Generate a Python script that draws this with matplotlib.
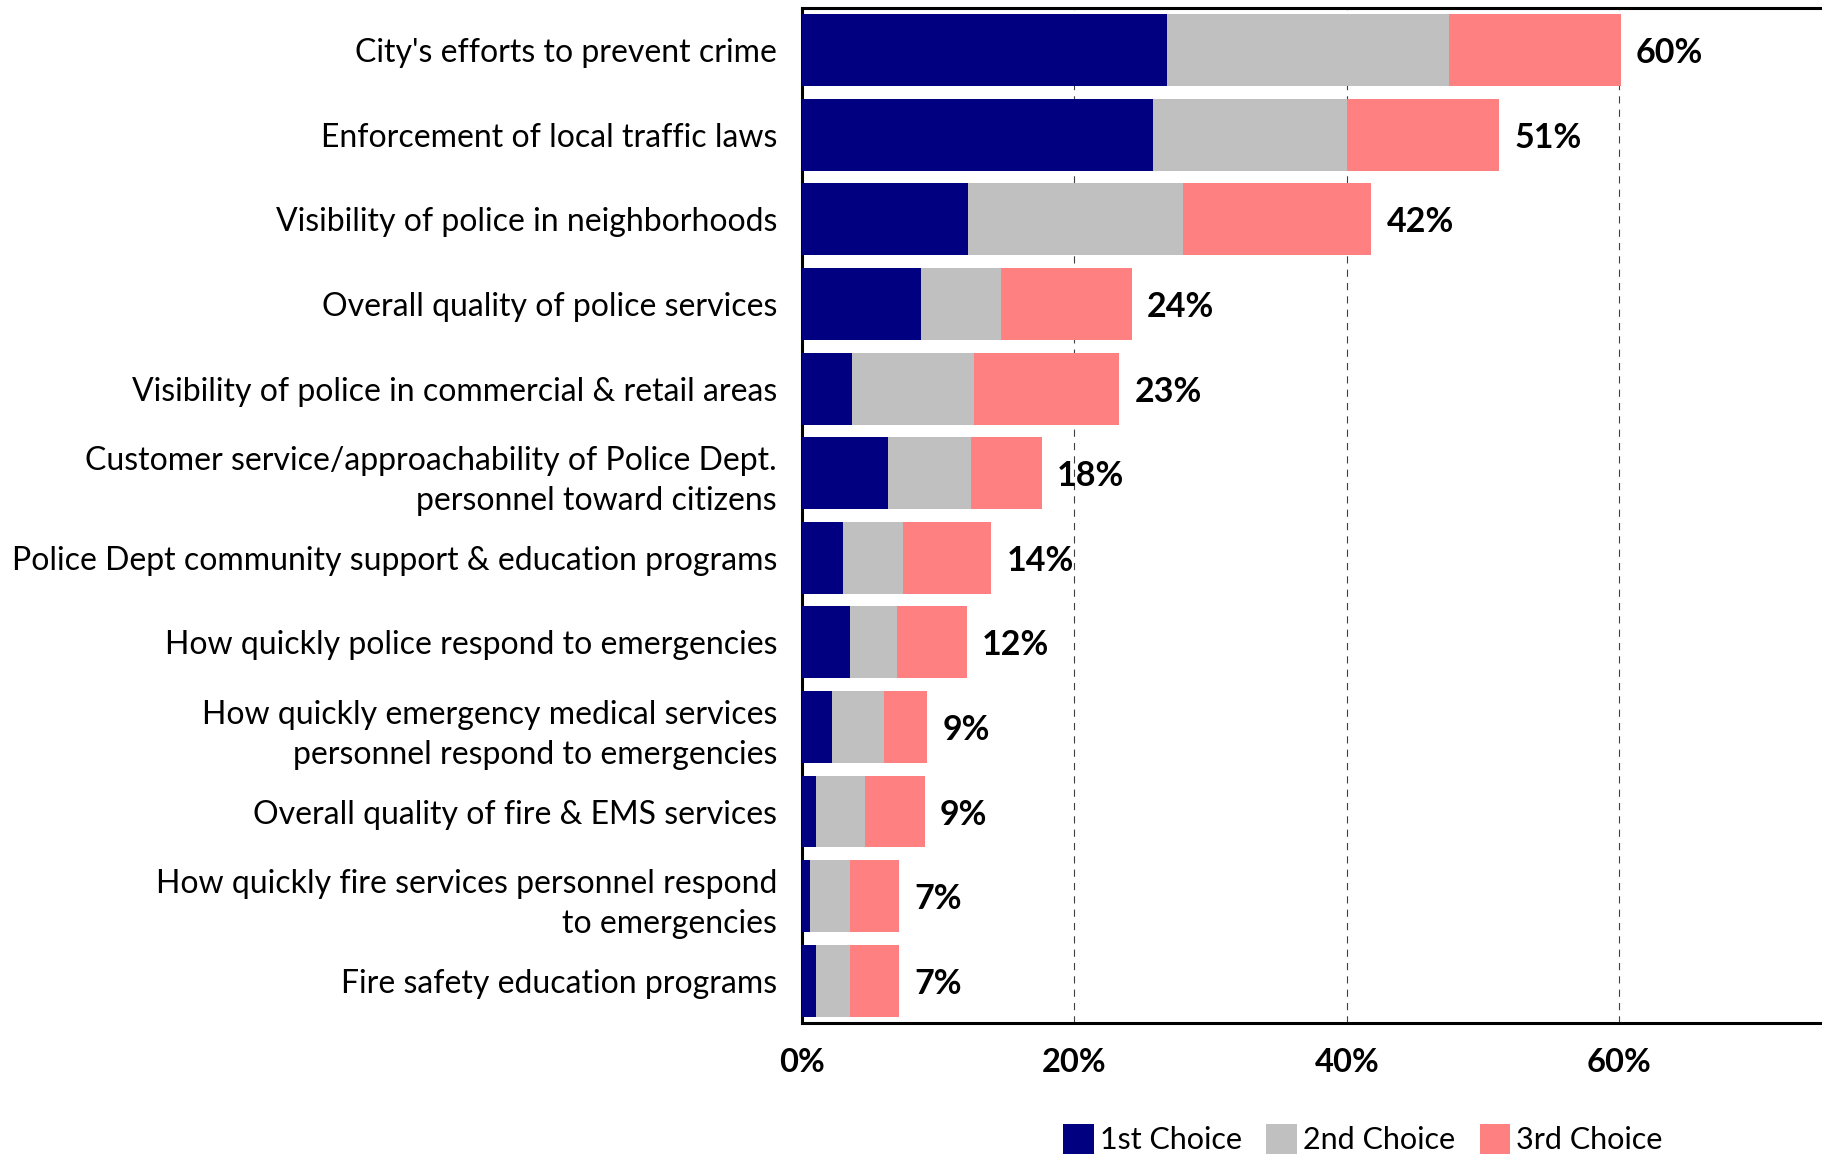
import matplotlib.pyplot as plt
import numpy as np
from matplotlib.patches import Patch

plt.rcParams["font.family"] = ["Lato", "DejaVu Sans"]

categories = [
    "City's efforts to prevent crime",
    "Enforcement of local traffic laws",
    "Visibility of police in neighborhoods",
    "Overall quality of police services",
    "Visibility of police in commercial & retail areas",
    "Customer service/approachability of Police Dept.\npersonnel toward citizens",
    "Police Dept community support & education programs",
    "How quickly police respond to emergencies",
    "How quickly emergency medical services\npersonnel respond to emergencies",
    "Overall quality of fire & EMS services",
    "How quickly fire services personnel respond\nto emergencies",
    "Fire safety education programs",
]
first_choice = [26.8, 25.8, 12.2, 8.7, 3.7, 6.3, 3.0, 3.5, 2.2, 1.0, 0.6, 1.0]
second_choice = [20.7, 14.2, 15.8, 5.9, 8.9, 6.1, 4.4, 3.5, 3.8, 3.6, 2.9, 2.5]
third_choice = [12.6, 11.2, 13.8, 9.6, 10.7, 5.2, 6.5, 5.1, 3.2, 4.4, 3.6, 3.6]

series = [
    ("1st Choice", first_choice, "#000080"),
    ("2nd Choice", second_choice, "#C0C0C0"),
    ("3rd Choice", third_choice, "#FF8080"),
]

fig = plt.figure(figsize=(18.22, 11.58), dpi=100)
ax = fig.add_axes([0.4402, 0.1166, 0.598, 0.8765])

y = np.arange(len(categories))
left = np.zeros(len(categories))
for name, vals, color in series:
    vals = np.array(vals)
    ax.barh(y, vals, left=left, height=0.85, color=color, label=name, zorder=3)
    left += vals

# totals at the end of each stacked bar
for yi, total in zip(y, left):
    ax.annotate(f"{total:.0f}%", (total, yi), xytext=(11, 0),
                textcoords="offset points", ha="left", va="center_baseline",
                fontsize=24.5, fontweight="bold", zorder=4)

ax.set_xlim(0, 80)
ax.set_ylim(len(categories) - 0.5, -0.5)
ax.set_xticks([0, 20, 40, 60])
ax.set_xticklabels(["0%", "20%", "40%", "60%"], fontsize=23.5, fontweight="bold")
ax.set_yticks(y)
ax.set_yticklabels(categories, fontsize=23, linespacing=1.4)
ax.tick_params(axis="x", length=0, pad=18)
ax.tick_params(axis="y", length=0, pad=18)

ax.xaxis.grid(True, color="#404040", linewidth=0.8, linestyle=(0, (6.5, 5.5)), zorder=0)
ax.set_axisbelow(True)
for side in ["top", "bottom", "left", "right"]:
    ax.spines[side].set_linewidth(2.2)
    ax.spines[side].set_color("black")

handles = [Patch(facecolor=c, label=n) for n, _, c in series]
fig.legend(handles=handles, loc="center", bbox_to_anchor=(0.748, 0.016),
           ncol=3, frameon=False, fontsize=22, handlelength=1.0, handleheight=1.1,
           handletextpad=0.2, columnspacing=0.8, borderpad=0.1)

fig.savefig("out.png", dpi=100)
